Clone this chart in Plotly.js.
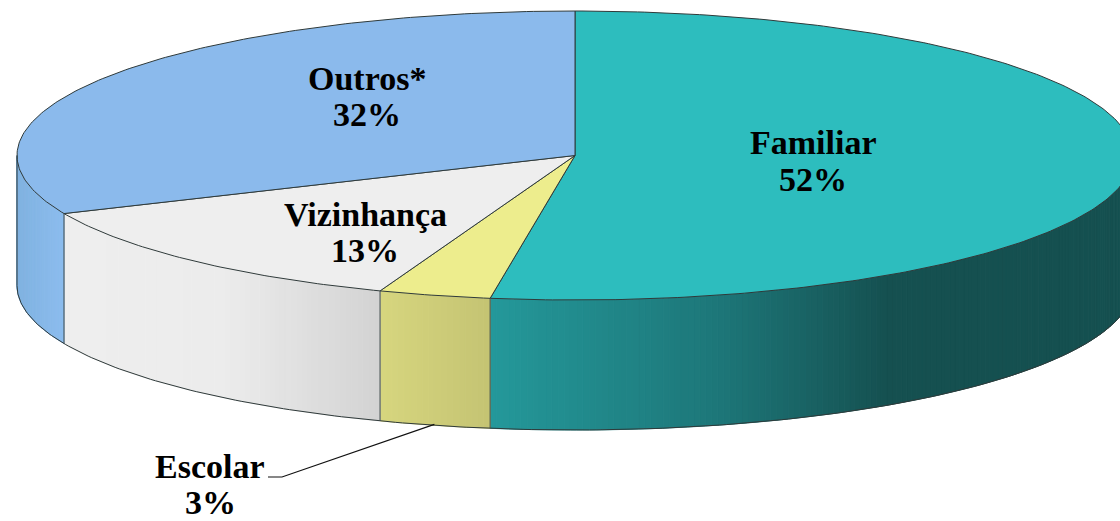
<!DOCTYPE html>
<html>
<head>
<meta charset="utf-8">
<script src="https://cdn.plot.ly/plotly-3.0.1.min.js"></script>
<style>html,body{margin:0;padding:0;background:#fff}#c{width:1120px;height:521px}</style>
</head>
<body>
<div id="c"></div>
<script>
// Data, clockwise from 12 o'clock
const categories = ['Familiar', 'Escolar', 'Vizinhança', 'Outros*'];
const percentLabels = ['52%', '3%', '13%', '32%'];
const sliceShares = [52.43, 3.25, 12.74, 31.58];

// Styles: side gradients run left to right across each visible side
const topColors = ['#2dbdbe', '#eded8d', '#eeeeee', '#8bbaec'];
const sideStops = [
  [[0, [36,152,154]], [0.36, [29,118,120]], [0.62, [21,80,80]], [1, [21,80,80]]],
  [[0, [214,213,126]], [1, [196,195,115]]],
  [[0, [238,238,238]], [0.5, [236,236,236]], [1, [211,211,211]]],
  [[0, [128,178,224]], [1, [140,188,238]]]
];
const EDGE = '#2f3a3a';

// Geometry of the projected pie, in axis units (axes map 1:1 onto the page)
const cx = 575, cy = 155.5, rx = 558, ry = 144.5, depth = 130;
const px = a => cx + rx * Math.sin(a);
const py = a => cy - ry * Math.cos(a);

function lerpStops(stops, f) {
  for (let i = 1; i < stops.length; i++) {
    if (f <= stops[i][0]) {
      const [f0, c0] = stops[i - 1], [f1, c1] = stops[i];
      const t = (f - f0) / (f1 - f0 || 1);
      return 'rgb(' + c0.map((v, k) => Math.round(v + (c1[k] - v) * t)).join(',') + ')';
    }
  }
  return 'rgb(' + stops[stops.length - 1][1].join(',') + ')';
}

const total = sliceShares.reduce((a, b) => a + b, 0);
let cum = 0;
const slices = sliceShares.map(v => {
  const a0 = cum / total * 2 * Math.PI;
  cum += v;
  return [a0, cum / total * 2 * Math.PI];
});

const traces = [];
const poly = (x, y, fill, line, width) => traces.push({
  type: 'scatter', mode: 'lines', x, y, fill: fill ? 'toself' : 'none',
  fillcolor: fill || undefined, line: {color: line, width: width}, hoverinfo: 'skip', showlegend: false
});

// Sides: only the front half (90° to 270°) is visible
slices.forEach((s, i) => {
  const a0 = Math.max(s[0], Math.PI / 2), a1 = Math.min(s[1], 1.5 * Math.PI);
  if (a1 <= a0) return;
  const n = Math.max(8, Math.round((a1 - a0) * 90));
  const xa = px(a0), xb = px(a1);
  const xMin = Math.min(xa, xb), xSpan = Math.abs(xa - xb);
  for (let k = 0; k < n; k++) {
    const u = a0 + (a1 - a0) * k / n, w = a0 + (a1 - a0) * (k + 1) / n;
    const col = lerpStops(sideStops[i], (px((u + w) / 2) - xMin) / xSpan);
    poly([px(u), px(w), px(w), px(u), px(u)], [py(u), py(w), py(w) + depth, py(u) + depth, py(u)], col, col, 1);
  }
});

// Top faces
slices.forEach((s, i) => {
  const xs = [cx], ys = [cy], n = Math.ceil((s[1] - s[0]) * 80);
  for (let k = 0; k <= n; k++) {
    const a = s[0] + (s[1] - s[0]) * k / n;
    xs.push(px(a)); ys.push(py(a));
  }
  xs.push(cx); ys.push(cy);
  poly(xs, ys, topColors[i], EDGE, 1);
});

// Outer front rim and vertical seams
const rimX = [], rimY = [];
for (let k = 0; k <= 240; k++) {
  const a = Math.PI / 2 + Math.PI * k / 240;
  rimX.push(px(a)); rimY.push(py(a) + depth);
}
poly(rimX, rimY, null, EDGE, 1);
slices.forEach(s => {
  const a = s[1] % (2 * Math.PI);
  if (a > Math.PI / 2 && a < 1.5 * Math.PI) poly([px(a), px(a)], [py(a), py(a) + depth], null, '#3c4848', 1);
});
poly([px(1.5 * Math.PI), px(1.5 * Math.PI)], [py(1.5 * Math.PI), py(1.5 * Math.PI) + depth], null, EDGE, 1);

// Leader line for the small slice
const midEscolar = (slices[1][0] + slices[1][1]) / 2;
poly([268, 282, px(midEscolar)], [477, 477, py(midEscolar) + depth - 1], null, '#111', 1.2);

// Labels
const font = {family: '"Liberation Serif", serif', size: 34, color: '#000'};
const labelAt = [[813, 142, 179], [210, 466, 502], [365, 214, 250], [367, 78, 114]];
const annotations = [];
categories.forEach((c, i) => {
  const [x, y1, y2] = labelAt[i];
  [[c, y1], [percentLabels[i], y2]].forEach(([t, y]) => annotations.push({
    x, y, xref: 'x', yref: 'y', text: '<b>' + t + '</b>', showarrow: false, font,
    xanchor: 'center', yanchor: 'middle'
  }));
});

Plotly.newPlot('c', traces, {
  width: 1120, height: 521,
  margin: {l: 0, r: 0, t: 0, b: 0},
  paper_bgcolor: '#fff', plot_bgcolor: '#fff',
  showlegend: false,
  xaxis: {range: [0, 1120], visible: false, fixedrange: true},
  yaxis: {range: [521, 0], visible: false, fixedrange: true},
  annotations
}, {displayModeBar: false, staticPlot: true});
</script>
</body>
</html>
